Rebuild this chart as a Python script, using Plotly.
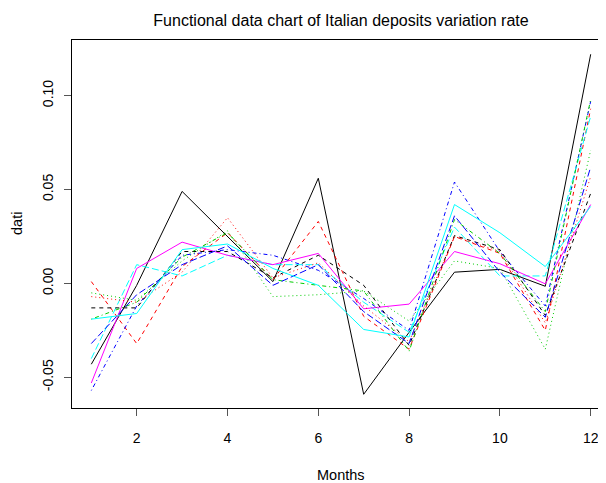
import plotly.graph_objects as go

# months on the x axis
months = [1, 2, 3, 4, 5, 6, 7, 8, 9, 10, 11, 12]

# one column per series (R matplot order)
s01 = [-0.043, -0.001, 0.049, 0.025, 0.001, 0.056, -0.059, -0.026, 0.006, 0.0075, -0.0015, 0.122]
s02 = [0.001, -0.032, 0.009, 0.027, 0.002, 0.033, -0.0175, -0.035, 0.025, 0.016, -0.025, 0.093]
s03 = [-0.005, -0.009, 0.012, 0.028, -0.007, -0.006, -0.004, -0.020, 0.012, 0.008, -0.035, 0.071]
s04 = [-0.057, -0.012, 0.015, 0.018, 0.015, 0.007, -0.008, -0.025, 0.054, 0.017, -0.012, 0.097]
s05 = [-0.040, 0.010, 0.004, 0.015, 0.010, 0.010, -0.010, -0.026, 0.030, 0.004, 0.004, 0.089]
s06 = [-0.053, 0.008, 0.022, 0.015, 0.010, 0.016, -0.0135, -0.011, 0.017, 0.0105, -0.0002, 0.042]
s07 = [-0.013, -0.013, 0.017, 0.017, 0.003, 0.015, -0.001, -0.033, 0.0255, 0.018, -0.017, 0.048]
s08 = [-0.007, -0.010, 0.006, 0.035, 0.003, 0.011, -0.012, -0.031, 0.025, 0.017, -0.021, 0.057]
s09 = [-0.019, -0.010, 0.014, 0.027, 0.002, -0.001, -0.004, -0.036, 0.034, 0.016, -0.015, 0.098]
s10 = [-0.032, -0.006, 0.010, 0.020, -0.001, 0.010, -0.015, -0.032, 0.036, 0.006, -0.018, 0.062]
s11 = [-0.019, -0.016, 0.018, 0.021, 0.008, -0.001, -0.0245, -0.0285, 0.042, 0.027, 0.009, 0.041]

series = [s01, s02, s03, s04, s05, s06, s07, s08, s09, s10, s11]

# R default palette and line types, cycled like matplot does
r_cols = ["#000000", "#FF0000", "#00CD00", "#0000FF", "#00FFFF", "#FF00FF"]
r_lty = ["solid", "4px,4px", "1px,3px", "1px,3px,4px,3px", "7px,3px"]

fig = go.Figure()
for i, vals in enumerate(series):
    fig.add_trace(go.Scatter(
        x=months, y=vals, mode="lines",
        line=dict(color=r_cols[i % 6], dash=r_lty[i % 5], width=1),
        showlegend=False, hoverinfo="skip"))

font = "Liberation Sans, Arial, sans-serif"

# page body adds an 8px margin, so the figure is 8px smaller and shifted
W, H = 598, 475

fig.update_layout(
    width=W, height=H,
    margin=dict(l=64, r=0, t=32, b=75, autoexpand=False),
    paper_bgcolor="white", plot_bgcolor="white",
    font=dict(family=font, size=14, color="black"),
    title=dict(text="Functional data chart of Italian deposits variation rate",
               x=333 / W, xref="container", xanchor="center",
               y=1 - 12 / H, yref="container", yanchor="middle",
               font=dict(size=16), automargin=False),
)

fig.update_xaxes(
    range=[0.575, 0.575 + 534 / 45.4],
    tickvals=[2, 4, 6, 8, 10, 12], ticktext=["2", "4", "6", "8", "10", "12"],
    showgrid=False, zeroline=False, automargin=False,
    showline=True, linecolor="black", linewidth=1, mirror=True,
    ticks="outside", ticklen=7, tickcolor="#555", tickwidth=1,
    ticklabelstandoff=10,
)
fig.update_yaxes(
    range=[-0.0663, 0.1296],
    tickvals=[-0.05, 0.0, 0.05, 0.10], ticktext=["-0.05", "0.00", "0.05", "0.10"],
    tickangle=-90,
    showgrid=False, zeroline=False, automargin=False,
    showline=True, linecolor="black", linewidth=1,
    ticks="outside", ticklen=7, tickcolor="#555", tickwidth=1,
    ticklabelstandoff=5,
)

# axis titles placed like R's mtext lines
fig.add_annotation(text="Months", xref="paper", yref="paper", x=(333 - 64) / 534, y=0,
                   yshift=-67, showarrow=False, font=dict(size=14.5), yanchor="middle")
fig.add_annotation(text="dati", xref="paper", yref="paper", x=0, y=0.5, xshift=-55,
                   textangle=-90, showarrow=False, font=dict(size=14.5), xanchor="center")

fig.write_html("out.html")
